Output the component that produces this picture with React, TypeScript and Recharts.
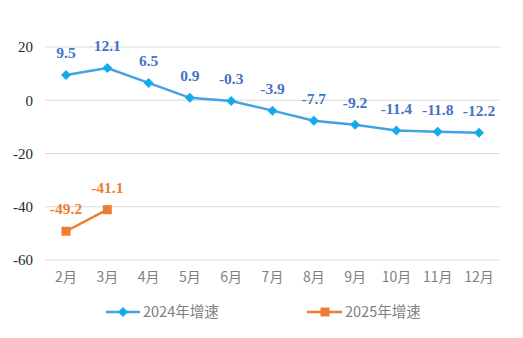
import React from "react";
import { LineChart, Line, XAxis, YAxis, CartesianGrid, LabelList } from "recharts";

const months = ["2月", "3月", "4月", "5月", "6月", "7月", "8月", "9月", "10月", "11月", "12月"];
const growth2024 = [9.5, 12.1, 6.5, 0.9, -0.3, -3.9, -7.7, -9.2, -11.4, -11.8, -12.2];
const growth2025: (number | null)[] = [-49.2, -41.1, null, null, null, null, null, null, null, null, null];
const yTicks = [-60, -40, -20, 0, 20];
const seriesNames = ["2024年增速", "2025年增速"];

const data = months.map((m, i) => ({ month: m, a: growth2024[i], b: growth2025[i] }));

const BLUE_LINE = "#46A1E3";
const BLUE_MARK = "#12ABEC";
const BLUE_LABEL = "#4472C4";
const ORANGE = "#ED7D31";

const Diamond = (props: any) => {
  const { cx, cy } = props;
  if (cx == null || cy == null) return null;
  const r = 5;
  return <path d={`M${cx},${cy - r}L${cx + r},${cy}L${cx},${cy + r}L${cx - r},${cy}Z`} fill={BLUE_MARK} />;
};

const Square = (props: any) => {
  const { cx, cy } = props;
  if (cx == null || cy == null) return null;
  const s = 4.5;
  return <rect x={cx - s} y={cy - s} width={s * 2} height={s * 2} fill={ORANGE} />;
};

const makeLabel = (color: string) => (props: any) => {
  const { x, y, value } = props;
  if (value == null) return null;
  return (
    <text x={x} y={y - 17} textAnchor="middle" fill={color} fontFamily="'Liberation Serif', 'Times New Roman', serif" fontWeight="bold" fontSize={15.5}>
      {value}
    </text>
  );
};

const LegendBox = () => (
  <svg width={523} height={30} style={{ position: "absolute", left: 0, top: 297, display: "block" }}>
    <g>
      <line x1={106} y1={15} x2={140} y2={15} stroke={BLUE_LINE} strokeWidth={2.5} />
      <path d="M123,10L128,15L123,20L118,15Z" fill={BLUE_MARK} />
      <text x={143} y={20} fill="#7F7F7F" fontSize={14.5} fontFamily="'Noto Sans CJK SC', sans-serif">{seriesNames[0]}</text>
    </g>
    <g>
      <line x1={307} y1={15} x2={342} y2={15} stroke={ORANGE} strokeWidth={2.5} />
      <rect x={320.5} y={10.5} width={9} height={9} fill={ORANGE} />
      <text x={345} y={20} fill="#7F7F7F" fontSize={14.5} fontFamily="'Noto Sans CJK SC', sans-serif">{seriesNames[1]}</text>
    </g>
  </svg>
);

export default function App() {
  return (
    <div style={{ position: "fixed", left: 0, top: 0, width: 523, height: 338, background: "#fff" }}>
      <LineChart width={523} height={338} data={data} margin={{ top: 47, right: 23, bottom: 0, left: 0 }}>
        <CartesianGrid vertical={false} stroke="#D9D9D9" />
        <XAxis
          dataKey="month"
          axisLine={false}
          tickLine={false}
          tickSize={0}
          tickMargin={12}
          height={78}
          padding={{ left: 21, right: 21 }}
          tick={{ fill: "#7F7F7F", fontSize: 14, fontFamily: "'Noto Sans CJK SC', sans-serif" }}
          interval={0}
        />
        <YAxis
          domain={[-60, 20]}
          ticks={yTicks}
          axisLine={false}
          tickLine={false}
          tickSize={0}
          tickMargin={12}
          width={45}
          tick={{ fill: "#262626", fontSize: 15, fontFamily: "'Liberation Serif', 'Times New Roman', serif" }}
        />
        <Line
          dataKey="a"
          name={seriesNames[0]}
          stroke={BLUE_LINE}
          strokeWidth={2.5}
          dot={<Diamond />}
          activeDot={false}
          isAnimationActive={false}
        >
          <LabelList dataKey="a" content={makeLabel(BLUE_LABEL)} />
        </Line>
        <Line
          dataKey="b"
          name={seriesNames[1]}
          stroke={ORANGE}
          strokeWidth={2.5}
          dot={<Square />}
          activeDot={false}
          connectNulls={false}
          isAnimationActive={false}
        >
          <LabelList dataKey="b" content={makeLabel(ORANGE)} />
        </Line>
      </LineChart>
      <LegendBox />
    </div>
  );
}
